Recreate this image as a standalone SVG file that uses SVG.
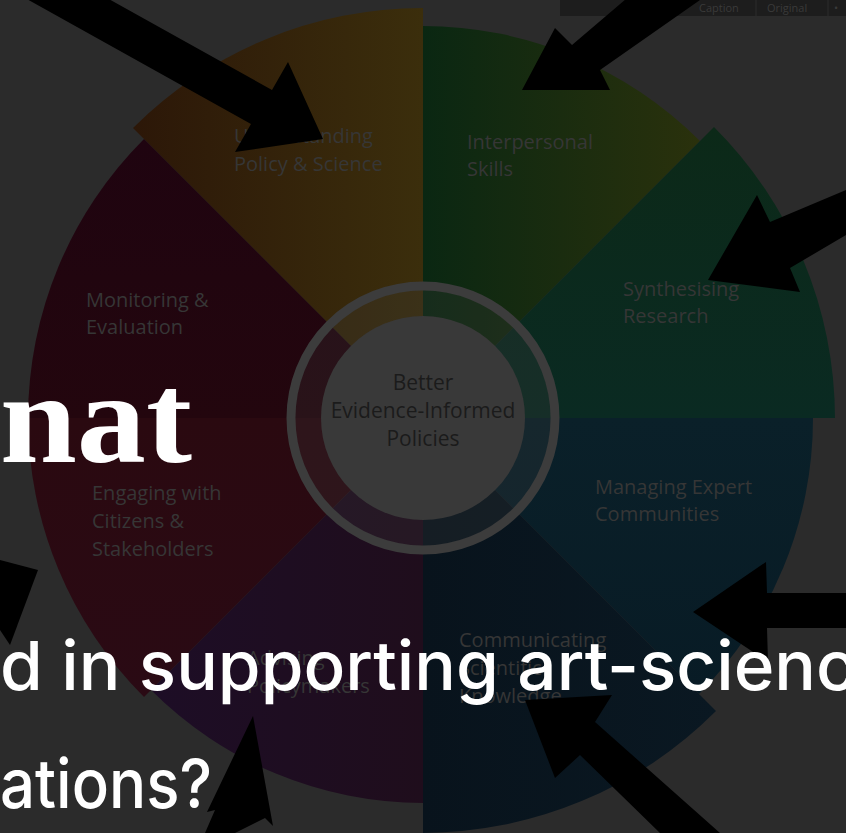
<svg xmlns="http://www.w3.org/2000/svg" width="846" height="833" viewBox="0 0 846 833">
<defs>
<style>
.lbl{font-family:"Open Sans","DejaVu Sans",sans-serif;font-size:20px;fill:#363636}
.ctr{font-family:"Open Sans","DejaVu Sans",sans-serif;font-size:21px;fill:#1b1b1b;text-anchor:middle}
.big{font-family:Inter,"Liberation Sans",sans-serif;font-size:68px;font-weight:500;fill:#ffffff}
.bar{font-family:"Open Sans","DejaVu Sans",sans-serif;font-size:11px;fill:#3a3a3a}
.arr{fill:#000000}
</style>
<linearGradient id="gOr" x1="0" y1="0" x2="1" y2="0"><stop offset="0" stop-color="#2c1708"/><stop offset="1" stop-color="#3b2e0c"/></linearGradient>
<linearGradient id="gGr" x1="0" y1="0" x2="1" y2="0"><stop offset="0" stop-color="#0a2712"/><stop offset="1" stop-color="#2a310c"/></linearGradient>
<linearGradient id="gTe" x1="0" y1="0" x2="0" y2="1"><stop offset="0" stop-color="#0c2918"/><stop offset="1" stop-color="#0a2a22"/></linearGradient>
<linearGradient id="gBl" x1="0" y1="0" x2="0" y2="1"><stop offset="0" stop-color="#0a2029"/><stop offset="1" stop-color="#081b25"/></linearGradient>
<linearGradient id="gNv" x1="0" y1="0" x2="1" y2="0"><stop offset="0" stop-color="#08131c"/><stop offset="1" stop-color="#0a1822"/></linearGradient>
<linearGradient id="gPu" x1="0" y1="0" x2="1" y2="0"><stop offset="0" stop-color="#1d0d26"/><stop offset="1" stop-color="#1f0d1c"/></linearGradient>
<linearGradient id="gRd" x1="0" y1="0" x2="0" y2="1"><stop offset="0" stop-color="#2a0910"/><stop offset="1" stop-color="#2a0a14"/></linearGradient>
<linearGradient id="gMg" x1="0" y1="0" x2="0" y2="1"><stop offset="0" stop-color="#1f0410"/><stop offset="1" stop-color="#23060e"/></linearGradient>
</defs>
<rect x="0" y="0" width="846" height="833" fill="#2b2b2b"/>
<g id="topbar">
<rect x="560" y="0" width="286" height="16" fill="#1d1d1d"/>
<text class="bar" x="699" y="12">Caption</text>
<line x1="756" y1="0" x2="756" y2="16" stroke="#2c2c2c" stroke-width="1"/>
<text class="bar" x="767" y="12">Original</text>
<line x1="828" y1="0" x2="828" y2="16" stroke="#2c2c2c" stroke-width="1"/>
<text class="bar" x="834" y="12">•</text>
</g>
<g id="wheel">
<g id="seg-understanding"><path d="M423 418 L133 128 A410 410 0 0 1 423 8 Z" fill="url(#gOr)"/><text class="lbl"><tspan x="234" y="143">Understanding</tspan><tspan x="234" y="171">Policy &amp; Science</tspan></text></g>
<g id="seg-interpersonal"><path d="M423 418 L423 26 A392 392 0 0 1 700 141 Z" fill="url(#gGr)"/><text class="lbl"><tspan x="467" y="149">Interpersonal</tspan><tspan x="467" y="176">Skills</tspan></text></g>
<g id="seg-synthesising"><path d="M423 418 L714 127 A412 412 0 0 1 835 418 Z" fill="url(#gTe)"/><text class="lbl"><tspan x="623" y="296">Synthesising</tspan><tspan x="623" y="323">Research</tspan></text></g>
<g id="seg-managing"><path d="M423 418 L813 418 A390 390 0 0 1 699 694 Z" fill="url(#gBl)"/><text class="lbl"><tspan x="595" y="494">Managing Expert</tspan><tspan x="595" y="521">Communities</tspan></text></g>
<g id="seg-communicating"><path d="M423 418 L716 711 A415 415 0 0 1 423 833 Z" fill="url(#gNv)"/><text class="lbl"><tspan x="459" y="647">Communicating</tspan><tspan x="459" y="675">Scientific</tspan><tspan x="459" y="703">Knowledge</tspan></text></g>
<g id="seg-advising"><path d="M423 418 L423 803 A385 385 0 0 1 151 690 Z" fill="url(#gPu)"/><text class="lbl"><tspan x="247" y="665">Advising</tspan><tspan x="247" y="693">Policymakers</tspan></text></g>
<g id="seg-engaging"><path d="M423 418 L144 697 A395 395 0 0 1 28 418 Z" fill="url(#gRd)"/><text class="lbl"><tspan x="92" y="500">Engaging with</tspan><tspan x="92" y="528">Citizens &amp;</tspan><tspan x="92" y="556">Stakeholders</tspan></text></g>
<g id="seg-monitoring"><path d="M423 418 L28 418 A395 395 0 0 1 144 139 Z" fill="url(#gMg)"/><text class="lbl"><tspan x="86" y="307">Monitoring &amp;</tspan><tspan x="86" y="334">Evaluation</tspan></text></g>
</g>
<g id="center">
<circle cx="423" cy="418" r="128" fill="#3a3a3a" fill-opacity="0.25"/>
<circle cx="423" cy="418" r="132" fill="none" stroke="#3c3c3c" stroke-width="9"/>
<circle cx="423" cy="418" r="102" fill="#393939"/>
<text class="ctr"><tspan x="423" y="390">Better</tspan><tspan x="423" y="418">Evidence-Informed</tspan><tspan x="423" y="446">Policies</tspan></text>
</g>
<g id="arrows">
<polygon class="arr" points="-76,-104 272,90 288,62 323,139 235,152 251,124 -97,-70"/>
<polygon class="arr" points="660,-30 700,0 600,70 610,90 522,90 555,28 572,45"/>
<polygon class="arr" points="846,190 846,235 790,268 800,292 708,280 757,195 770,222"/>
<polygon class="arr" points="846,593 846,628 767,628 768,662 693,612 766,562 767,593"/>
<polygon class="arr" points="720,833 660,833 580,755 555,778 525,700 612,695 595,722"/>
<polygon class="arr" points="205,833 235,833 265,818 273,826 253,716 207,812 215,810"/>
<polygon class="arr" points="0,560 38,570 10,645 0,630"/>
</g>
<g id="overlay-text">
<text x="0" y="462" font-family="'Liberation Serif','DejaVu Serif',serif" font-weight="700" font-size="130" fill="#ffffff" textLength="192" lengthAdjust="spacingAndGlyphs">nat</text>
<text class="big" x="0" y="690" textLength="856" lengthAdjust="spacingAndGlyphs">d in supporting art-scienc</text>
<text class="big" x="0" y="808" textLength="212" lengthAdjust="spacingAndGlyphs">ations?</text>
</g>
</svg>
